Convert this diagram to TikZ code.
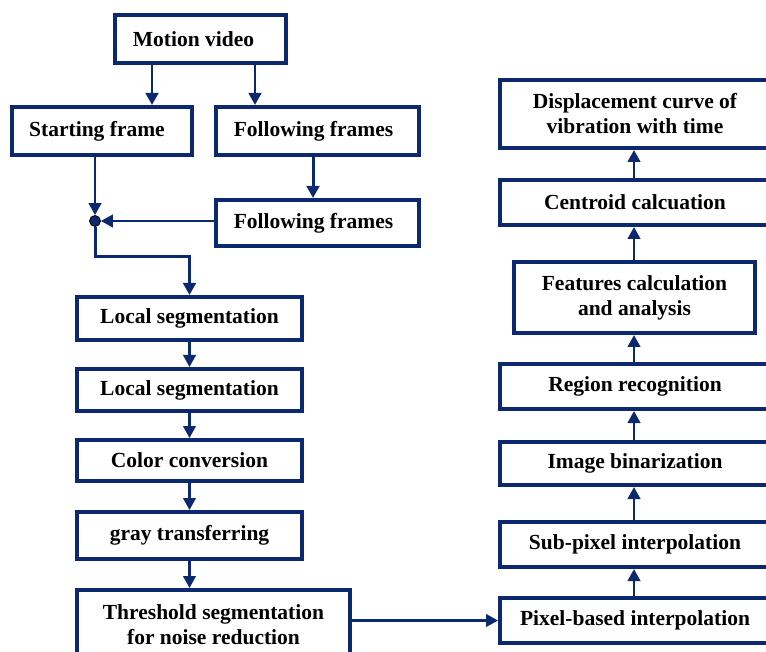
\documentclass[tikz,border=0pt]{standalone}
\usepackage{fontspec}
\setmainfont{Liberation Serif}
\usetikzlibrary{arrows.meta,calc}
\definecolor{navy}{RGB}{12,40,110}
\begin{document}
\begin{tikzpicture}[x=1pt,y=-1pt,
  box/.style={draw=navy,line width=4pt,fill=white,align=center,inner sep=1pt,
    font=\fontsize{21.5}{25}\selectfont\bfseries},
  conn/.style={draw=navy,line width=2.6pt},
  arr/.style={conn,-{Triangle[length=12pt,width=12.5pt]}},
  junction/.style={circle,fill=navy,draw=black,line width=0.8pt,inner sep=0pt,minimum size=11pt}]
\useasboundingbox (0,0) rectangle (766,652);
\begin{scope}
\clip (0,0) rectangle (766,652);
% left column
\node[box,minimum width=171pt,minimum height=48pt] (mv) at (200.5,39) {Motion video\hspace*{14pt}};
\node[box,minimum width=180pt,minimum height=48pt] (sf) at (102,131) {Starting frame\hspace*{10pt}};
\node[box,minimum width=203pt,minimum height=48pt] (ff1) at (317.5,131) {Following frames\hspace*{8pt}};
\node[box,minimum width=203pt,minimum height=46pt] (ff2) at (317.5,223) {Following frames\hspace*{8pt}};
\node[junction] (dot) at (95,221) {};
\node[box,minimum width=225pt,minimum height=43pt] (ls1) at (189.5,318.5) {Local segmentation};
\node[box,minimum width=225pt,minimum height=42pt] (ls2) at (189.5,390) {Local segmentation};
\node[box,minimum width=225pt,minimum height=41pt] (cc) at (189.5,460.5) {Color conversion};
\node[box,minimum width=225pt,minimum height=47pt] (gt) at (189.5,535.5) {gray transferring};
\node[box,minimum width=273pt,minimum height=70pt] (th) at (213.5,625) {Threshold segmentation\\for noise reduction};
% right column
\node[box,minimum width=270pt,minimum height=45pt] (pb) at (635,620.5) {Pixel-based interpolation};
\node[box,minimum width=270pt,minimum height=45pt] (sp) at (635,544.5) {Sub-pixel interpolation};
\node[box,minimum width=270pt,minimum height=43pt] (ib) at (635,463.5) {Image binarization};
\node[box,minimum width=270pt,minimum height=45pt] (rr) at (635,386.5) {Region recognition};
\node[box,minimum width=241pt,minimum height=71pt] (fc) at (634.5,297.5) {Features calculation\\and analysis};
\node[box,minimum width=270pt,minimum height=45pt] (cen) at (635,202.5) {Centroid calcuation};
\node[box,minimum width=270pt,minimum height=68pt] (disp) at (635,114) {Displacement curve of\\vibration with time};
\end{scope}
% helper coordinates
\coordinate (xa) at (152,0);
\coordinate (xb) at (255,0);
\coordinate (xc) at (313,0);
\coordinate (xr) at (634,0);
\coordinate (bend) at (0,257);
% connectors
\draw[arr,line width=2.8pt] (mv.south -| xa) -- (sf.north -| xa);
\draw[arr,line width=2.8pt] (mv.south -| xb) -- (ff1.north -| xb);
\draw[arr,line width=3pt] (ff1.south -| xc) -- (ff2.north -| xc);
\draw[arr] (sf.south -| dot) -- (dot.north);
\draw[arr] (ff2.west |- dot) -- (dot.east);
\draw[arr,line width=3pt] (dot.south) |- (bend -| ls1.north) -- (ls1.north);
\draw[arr] (ls1) -- (ls2);
\draw[arr] (ls2) -- (cc);
\draw[arr] (cc) -- (gt);
\draw[arr] (gt.south) -- (th.north -| gt.south);
\draw[arr] (th.east |- pb.west) -- (pb.west);
\draw[arr] (pb.north -| xr) -- (sp.south -| xr);
\draw[arr] (sp.north -| xr) -- (ib.south -| xr);
\draw[arr] (ib.north -| xr) -- (rr.south -| xr);
\draw[arr] (rr.north -| xr) -- (fc.south -| xr);
\draw[arr] (fc.north -| xr) -- (cen.south -| xr);
\draw[arr] (cen.north -| xr) -- (disp.south -| xr);
\end{tikzpicture}
\end{document}
